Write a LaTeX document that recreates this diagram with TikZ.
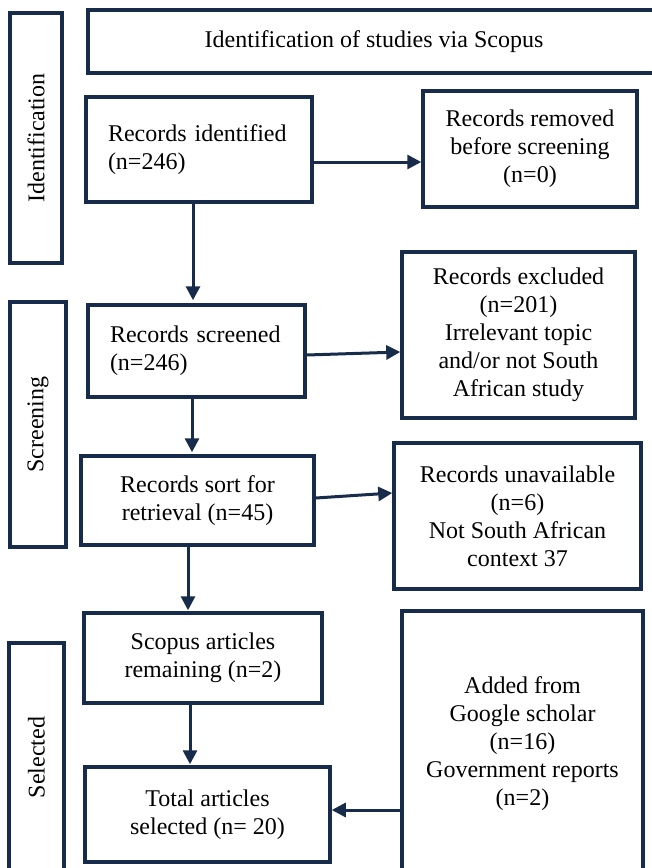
\documentclass[tikz,border=0pt]{standalone}
\usepackage{fontspec}
\setmainfont{Liberation Serif}
\usetikzlibrary{arrows.meta}
\definecolor{navy}{HTML}{172C4A}
\begin{document}
\begin{tikzpicture}[x=1pt,y=-1pt,
  box/.style={draw=navy, line width=3.5pt, inner sep=0pt, text=black,
    font=\fontsize{24}{28}\selectfont, align=center},
  leftbox/.style={box, align=left, inner xsep=22pt},
  bar/.style={box, rotate=90},
  arr/.style={draw=navy, line width=3pt, -{Triangle[length=14pt,width=14pt]}}
]
\useasboundingbox (0,0) rectangle (651,868);
\fill[white] (0,0) rectangle (651,868);

% side bars
\node[bar, minimum width=250pt, minimum height=52pt] (identbar) at (36,138) {Identification};
\node[bar, minimum width=245pt, minimum height=56pt] (screenbar) at (38,424.5) {Screening};
\node[bar, minimum width=229pt, minimum height=55pt] (selbar) at (36.5,757.5) {Selected};

% title
\node[box, minimum width=572pt, minimum height=63pt] (title) at (374,41.5) {Identification of studies via Scopus};

% main boxes
\node[leftbox, text width=182pt, minimum width=226pt, minimum height=105pt] (ident) at (199,149.5) {Records identified\\(n=246)};
\node[box, minimum width=214pt, minimum height=116pt] (removed) at (530,149) {Records removed\\before screening\\(n=0)};
\node[leftbox, text width=173pt, minimum width=217pt, minimum height=92pt] (screened) at (196.5,351) {Records screened\\(n=246)};
\node[box, minimum width=233pt, minimum height=166pt] (excluded) at (518.5,335) {Records excluded\\(n=201)\\Irrelevant topic\\and/or not South\\African study};
\node[box, minimum width=233pt, minimum height=89pt] (sort) at (197.5,500.5) {Records sort for\\retrieval (n=45)};
\node[box, minimum width=247pt, minimum height=146pt] (unavail) at (517.5,516) {Records unavailable\\(n=6)\\Not South African\\context 37};
\node[box, minimum width=238pt, minimum height=90pt] (remaining) at (203,658) {Scopus articles\\remaining (n=2)};
\node[box, minimum width=245pt, minimum height=95pt] (total) at (207.5,814.5) {Total articles\\selected (n= 20)};
\node[box, minimum width=241pt, minimum height=266pt] (added) at (522.5,744) {Added from\\Google scholar\\(n=16)\\Government reports\\(n=2)};

% connectors
\draw[arr] ([yshift=-12.5pt]ident.east) -- ([yshift=-13pt]removed.west);
\draw[arr] ([xshift=-6pt]ident.south) -- ([xshift=-3.5pt,yshift=3pt]screened.north);
\draw[arr] ([yshift=-4pt]screened.east) -- ([yshift=-17pt]excluded.west);
\draw[arr] ([xshift=-4.5pt]screened.south) -- ([xshift=-5.5pt,yshift=2pt]sort.north);
\draw[arr] ([yshift=2.5pt]sort.east) -- ([yshift=23pt]unavail.west);
\draw[arr] ([xshift=-9.5pt]sort.south) -- ([xshift=-15pt,yshift=1pt]remaining.north);
\draw[arr] ([xshift=-13pt]remaining.south) -- ([xshift=-17.5pt,yshift=1pt]total.north);
\draw[arr] ([yshift=4.5pt]added.west |- total.east) -- ([yshift=4.5pt]total.east);
\end{tikzpicture}
\end{document}
